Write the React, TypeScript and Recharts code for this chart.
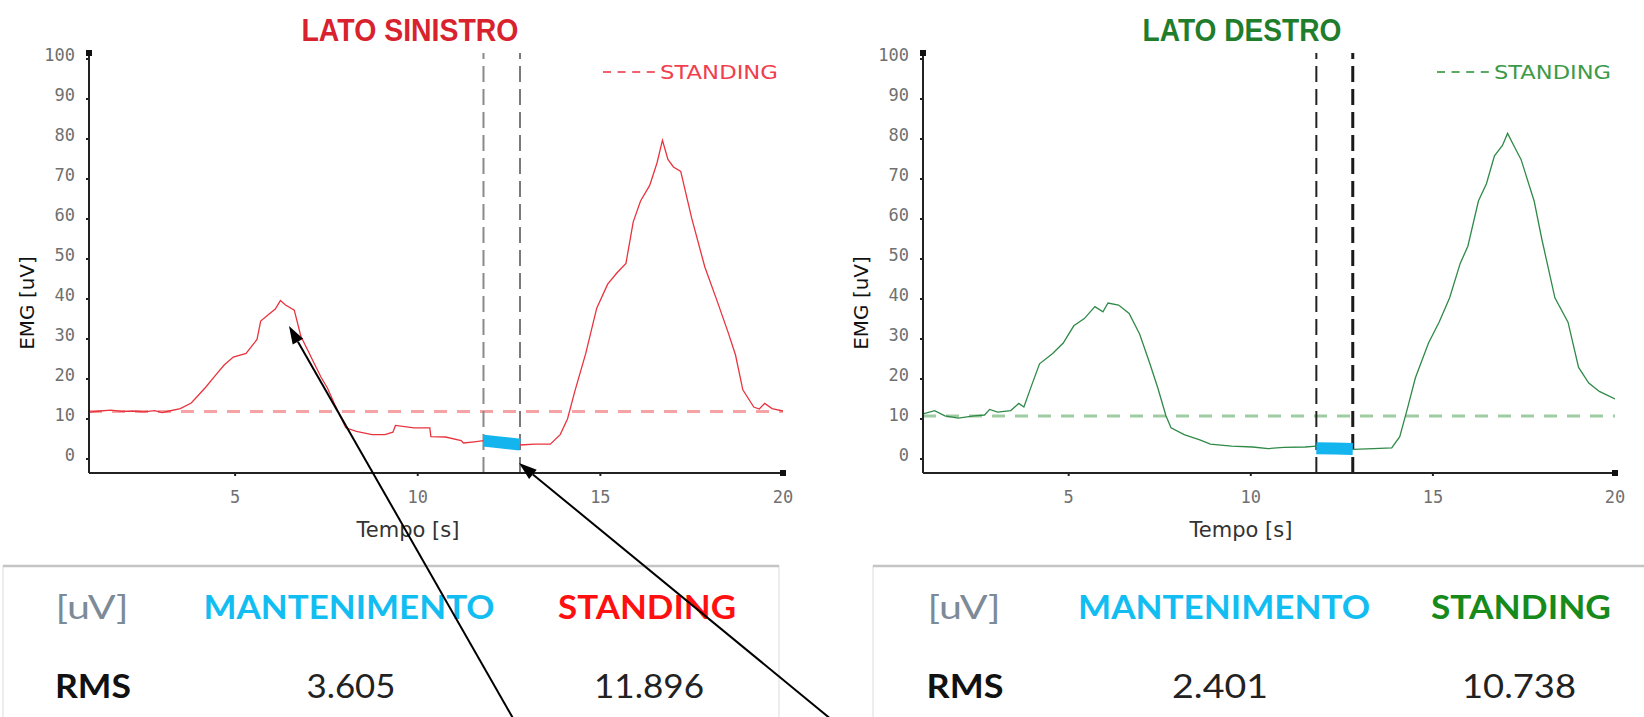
import React from "react";
import {
  LineChart,
  Line,
  XAxis,
  YAxis,
  ReferenceLine,
  ReferenceDot,
  Label,
} from "recharts";

// Left side (LATO SINISTRO) EMG envelope
const LEFT_T = [
  1.0, 1.3, 1.6, 1.9, 2.2, 2.5, 2.8, 3.0, 3.2, 3.5, 3.8, 4.0, 4.2, 4.45, 4.7, 4.95, 5.3, 5.6, 5.7, 5.95,
  6.1, 6.24, 6.38, 6.62, 6.8, 7.0, 7.17, 7.35, 7.53, 7.74, 8.03, 8.32, 8.75, 9.1, 9.32, 9.39, 9.9, 10.33,
  10.36, 10.76, 11.19, 11.25, 11.55, 11.8, 12.3, 12.8, 13.2, 13.63, 13.9, 14.1, 14.3, 14.6, 14.9, 15.2,
  15.45, 15.7, 15.9, 16.1, 16.35, 16.55, 16.7, 16.85, 17.0, 17.2, 17.5, 17.86, 18.2, 18.5, 18.7, 18.9,
  19.2, 19.35, 19.5, 19.7, 20.0,
];
const LEFT_V = [
  11.7, 12.0, 12.2, 11.9, 12.0, 11.8, 12.1, 11.6, 12.0, 12.6, 14.0, 16.0, 18.0, 20.8, 23.5, 25.5, 26.4,
  29.9, 34.5, 36.4, 37.5, 39.6, 38.5, 37.2, 30.7, 27.0, 23.8, 20.5, 17.7, 13.4, 7.8, 6.9, 6.1, 6.1, 6.7,
  8.4, 7.8, 7.8, 5.6, 5.5, 4.6, 4.0, 4.3, 4.6, 4.1, 3.5, 3.7, 3.7, 6.1, 10.0, 16.9, 26.4, 37.7, 43.7,
  46.5, 48.9, 59.3, 64.5, 68.4, 74.0, 79.7, 74.9, 73.0, 71.9, 60.2, 48.0, 39.4, 31.6, 26.0, 17.3, 13.0,
  12.5, 13.9, 12.6, 12.0,
];

// Right side (LATO DESTRO)
const RIGHT_T = [
  1.0, 1.32, 1.6, 1.97, 2.4, 2.69, 2.83, 3.05, 3.41, 3.63, 3.77, 3.99, 4.2, 4.56, 4.85, 5.14, 5.43, 5.72,
  5.94, 6.08, 6.37, 6.66, 6.95, 7.23, 7.45, 7.67, 7.81, 8.17, 8.6, 8.89, 9.47, 10.05, 10.48, 10.91, 11.49,
  11.8, 12.3, 12.8, 13.37, 13.87, 14.09, 14.3, 14.52, 14.88, 15.17, 15.46, 15.75, 15.96, 16.25, 16.47,
  16.69, 16.91, 17.05, 17.27, 17.42, 17.78, 17.99, 18.35, 18.71, 19.0, 19.28, 19.57, 20.0,
];
const RIGHT_V = [
  11.3, 12.1, 10.8, 10.2, 10.8, 11.0, 12.4, 11.7, 12.1, 13.9, 13.0, 18.6, 23.8, 26.4, 29.0, 33.3, 35.1,
  38.1, 36.8, 39.0, 38.5, 36.4, 31.2, 23.8, 17.7, 10.8, 7.8, 6.1, 4.8, 3.7, 3.2, 3.0, 2.6, 2.9, 3.0, 3.2,
  2.8, 2.4, 2.6, 2.8, 5.6, 12.6, 20.3, 29.0, 34.2, 40.3, 48.9, 53.2, 64.5, 68.8, 75.8, 78.4, 81.4, 77.5,
  74.9, 64.5, 55.0, 40.3, 34.2, 22.9, 19.0, 16.9, 15.0,
];

// holding window (mantenimento)
const WINDOW = [11.8, 12.8];
const MANT_T = [11.8, 12.3, 12.8];
const MANT_LEFT = [4.6, 4.1, 3.6];
const MANT_RIGHT = [2.7, 2.6, 2.5];

const RMS_LEFT = { mantenimento: "3.605", standing: "11.896", standingValue: 11.896 };
const RMS_RIGHT = { mantenimento: "2.401", standing: "10.738", standingValue: 10.738 };

const Y_TICKS = [0, 10, 20, 30, 40, 50, 60, 70, 80, 90, 100];
const X_TICKS = [5, 10, 15, 20];
const Y_DOMAIN = [-3.5, 101.5];
const X_DOMAIN = [1, 20];

const toRows = (t: number[], v: number[]) => t.map((x, i) => ({ t: x, v: v[i] }));

const TICK_FONT = "'DejaVu Sans Mono', monospace";
const LABEL_FONT = "'DejaVu Sans', sans-serif";

const YTick = (props: any) => (
  <text
    x={props.x}
    y={props.y - 4}
    dy="0.36em"
    textAnchor="end"
    fontFamily={TICK_FONT}
    fontSize={17}
    fill="#707070"
  >
    {props.payload.value}
  </text>
);

const XTick = (props: any) => (
  <text
    x={props.x}
    y={props.y + 25}
    textAnchor="middle"
    fontFamily={TICK_FONT}
    fontSize={17}
    fill="#707070"
  >
    {props.payload.value}
  </text>
);

const AxisEnd = (props: any) => (
  <rect x={props.cx - 3} y={props.cy - 3} width={6} height={6} fill="#111" />
);

interface EmgChartProps {
  left: number;
  width: number;
  marginLeft: number;
  marginRight: number;
  t: number[];
  v: number[];
  mant: number[];
  color: string;
  standingColor: string;
  standing: number;
  windowColors: string[];
  windowWidths: number[];
}

function EmgChart(p: EmgChartProps) {
  const data = toRows(p.t, p.v);
  const mantData = toRows(MANT_T, p.mant);
  return (
    <div style={{ position: "absolute", left: p.left, top: 0 }}>
      <LineChart
        width={p.width}
        height={560}
        data={data}
        margin={{ top: 53, right: p.marginRight, bottom: 57, left: p.marginLeft }}
      >
        <XAxis
          dataKey="t"
          type="number"
          domain={X_DOMAIN}
          ticks={X_TICKS}
          allowDataOverflow
          height={30}
          stroke="#222"
          strokeWidth={2}
          tickSize={3}
          tick={<XTick />}
        >
          <Label
            content={(lp: any) => {
              const vb = lp.viewBox;
              return (
                <text
                  x={vb.x + vb.width / 2 - 28}
                  y={vb.y + 64}
                  textAnchor="middle"
                  fontFamily={LABEL_FONT}
                  fontSize={21}
                  fill="#333"
                >
                  Tempo [s]
                </text>
              );
            }}
          />
        </XAxis>
        <YAxis
          type="number"
          domain={Y_DOMAIN}
          ticks={Y_TICKS}
          allowDataOverflow
          width={80}
          stroke="#222"
          strokeWidth={2}
          tickSize={3}
          tickMargin={11}
          tick={<YTick />}
        >
          <Label
            content={(lp: any) => {
              const vb = lp.viewBox;
              const cx = vb.x + 18;
              const cy = vb.y + 250;
              return (
                <text
                  x={cx}
                  y={cy}
                  transform={`rotate(-90 ${cx} ${cy})`}
                  textAnchor="middle"
                  dominantBaseline="central"
                  fontFamily={LABEL_FONT}
                  fontSize={20}
                  fill="#111"
                >
                  EMG [uV]
                </text>
              );
            }}
          />
        </YAxis>
        <ReferenceLine
          y={p.standing}
          stroke={p.standingColor}
          strokeWidth={3}
          strokeDasharray="13 10"
        />
        <ReferenceLine
          x={WINDOW[0]}
          stroke={p.windowColors[0]}
          strokeWidth={p.windowWidths[0]}
          strokeDasharray="16 7"
        />
        <ReferenceLine
          x={WINDOW[1]}
          stroke={p.windowColors[1]}
          strokeWidth={p.windowWidths[1]}
          strokeDasharray="16 7"
        />
        <Line
          type="linear"
          dataKey="v"
          stroke={p.color}
          strokeWidth={1.3}
          dot={false}
          isAnimationActive={false}
        />
        <Line
          type="linear"
          data={mantData}
          dataKey="v"
          stroke="#14b4ee"
          strokeWidth={12}
          dot={false}
          isAnimationActive={false}
        />
        <ReferenceDot x={X_DOMAIN[0]} y={Y_DOMAIN[1]} shape={AxisEnd} />
        <ReferenceDot x={X_DOMAIN[1]} y={Y_DOMAIN[0]} shape={AxisEnd} />
      </LineChart>
    </div>
  );
}

const TABLE_FONT = "Lato, 'Open Sans', sans-serif";

function RmsTable(props: {
  x: number;
  w: number;
  cols: number[];
  widths: number[];
  values: { mantenimento: string; standing: string };
  standingColor: string;
}) {
  const { x, w, cols, widths, values } = props;
  return (
    <g>
      <rect x={x} y={566} width={w} height={170} fill="#fff" stroke="#dcdcdc" strokeWidth={1} />
      <line x1={x} x2={x + w} y1={566} y2={566} stroke="#c4c4c4" strokeWidth={2.5} />
      <text x={cols[0]} y={619} textAnchor="middle" fontFamily={TABLE_FONT} fontSize={33} fill="#7d8a98" textLength={widths[0]} lengthAdjust="spacingAndGlyphs">
        [uV]
      </text>
      <text x={cols[1]} y={619} textAnchor="middle" fontFamily={TABLE_FONT} fontWeight="bold" fontSize={33} fill="#12bdf2" textLength={widths[1]} lengthAdjust="spacingAndGlyphs">
        MANTENIMENTO
      </text>
      <text x={cols[2]} y={619} textAnchor="middle" fontFamily={TABLE_FONT} fontWeight="bold" fontSize={33} fill={props.standingColor} textLength={widths[2]} lengthAdjust="spacingAndGlyphs">
        STANDING
      </text>
      <text x={cols[3]} y={698} textAnchor="middle" fontFamily={TABLE_FONT} fontWeight="bold" fontSize={33} fill="#111" textLength={widths[3]} lengthAdjust="spacingAndGlyphs">
        RMS
      </text>
      <text x={cols[4]} y={698} textAnchor="middle" fontFamily={TABLE_FONT} fontSize={33} fill="#222" textLength={widths[4]} lengthAdjust="spacingAndGlyphs">
        {values.mantenimento}
      </text>
      <text x={cols[5]} y={698} textAnchor="middle" fontFamily={TABLE_FONT} fontSize={33} fill="#222" textLength={widths[5]} lengthAdjust="spacingAndGlyphs">
        {values.standing}
      </text>
    </g>
  );
}

function Arrow({ x1, y1, x2, y2 }: { x1: number; y1: number; x2: number; y2: number }) {
  const ang = Math.atan2(y2 - y1, x2 - x1);
  const len = 18;
  const half = 6;
  const bx = x2 - len * Math.cos(ang);
  const by = y2 - len * Math.sin(ang);
  const px = -Math.sin(ang) * half;
  const py = Math.cos(ang) * half;
  return (
    <g>
      <line x1={x1} y1={y1} x2={bx} y2={by} stroke="#000" strokeWidth={2} />
      <polygon points={`${x2},${y2} ${bx + px},${by + py} ${bx - px},${by - py}`} fill="#000" />
    </g>
  );
}

export default function App() {
  return (
    <div
      style={{
        position: "absolute",
        left: 0,
        top: 0,
        width: 1644,
        height: 717,
        background: "#fff",
        overflow: "hidden",
      }}
    >
      <EmgChart
        left={0}
        width={820}
        marginLeft={9}
        marginRight={37}
        t={LEFT_T}
        v={LEFT_V}
        mant={MANT_LEFT}
        color="#e8343f"
        standingColor="#f5a3a5"
        standing={RMS_LEFT.standingValue}
        windowColors={["#8a8a8a", "#7a7a7a"]}
        windowWidths={[2, 2]}
      />
      <EmgChart
        left={822}
        width={822}
        marginLeft={21}
        marginRight={29}
        t={RIGHT_T}
        v={RIGHT_V}
        mant={MANT_RIGHT}
        color="#2f8a47"
        standingColor="#9fcca2"
        standing={RMS_RIGHT.standingValue}
        windowColors={["#222", "#1a1a1a"]}
        windowWidths={[2, 3]}
      />
      <svg
        width={1644}
        height={717}
        style={{ position: "absolute", left: 0, top: 0, pointerEvents: "none" }}
      >
        <text x={410} y={41} textAnchor="middle" fontFamily="'Liberation Sans', Arial, sans-serif" fontWeight="bold" fontSize={31} fill="#d8222e" textLength={217} lengthAdjust="spacingAndGlyphs">
          LATO SINISTRO
        </text>
        <text x={1242} y={41} textAnchor="middle" fontFamily="'Liberation Sans', Arial, sans-serif" fontWeight="bold" fontSize={31} fill="#1f7d2c" textLength={199} lengthAdjust="spacingAndGlyphs">
          LATO DESTRO
        </text>

        <line x1={603} x2={655} y1={72} y2={72} stroke="#f2606c" strokeWidth={2} strokeDasharray="8 6.6" />
        <text x={660} y={79} fontFamily={LABEL_FONT} fontSize={19} fill="#f0404e" textLength={118} lengthAdjust="spacingAndGlyphs">
          STANDING
        </text>
        <line x1={1437} x2={1489} y1={72} y2={72} stroke="#5aa862" strokeWidth={2} strokeDasharray="8 6.6" />
        <text x={1494} y={79} fontFamily={LABEL_FONT} fontSize={19} fill="#3d9a48" textLength={117} lengthAdjust="spacingAndGlyphs">
          STANDING
        </text>

        <RmsTable
          x={3}
          w={776}
          cols={[92, 349, 647, 93, 351, 649]}
          widths={[73, 291, 178, 76, 89, 110]}
          values={RMS_LEFT}
          standingColor="#ff1010"
        />
        <RmsTable
          x={873}
          w={800}
          cols={[964, 1224, 1521, 965, 1220, 1519]}
          widths={[73, 292, 180, 77, 96, 114]}
          values={RMS_RIGHT}
          standingColor="#178a1c"
        />

        <Arrow x1={514} y1={720} x2={289} y2={326} />
        <Arrow x1={832} y1={720} x2={519} y2={463} />
      </svg>
    </div>
  );
}
